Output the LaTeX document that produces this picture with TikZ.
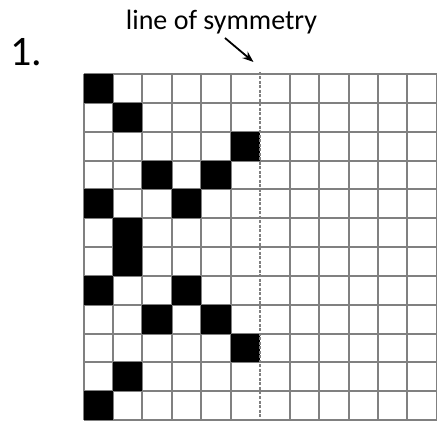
\documentclass[tikz,border=0pt]{standalone}
\usepackage{fontspec}
\setmainfont{Carlito}
\usetikzlibrary{arrows.meta,calc,positioning}

\tikzset{
  gridline/.style={draw=gray, line width=2pt},
  symline/.style={draw=gray, line width=2pt, dash pattern=on 3pt off 1.5pt},
  filled/.style={fill=black},
}

\begin{document}
\begin{tikzpicture}[x=1pt,y=-1pt,>=Stealth]
  \useasboundingbox (0,0) rectangle (437,422);
  % 12 x 12 grid, cells 29.45 wide, 28.85 high
  \foreach \i in {0,...,5,7,8,...,12}
    \draw[gridline] (83.5+\i*29.45,74) -- ++(0,346.2);
  \foreach \j in {0,...,12}
    \draw[gridline] (83.5,74+\j*28.85) -- ++(353.4,0);
  % shaded squares, row/col from top left
  \foreach \r/\c in {0/0,1/1,2/5,3/2,3/4,4/0,4/3,5/1,6/1,7/0,7/3,8/2,8/4,9/5,10/1,11/0}
    \fill[filled] (83.5+\c*29.45,74+\r*28.85) rectangle ++(29.45,28.85);
  \coordinate (symtop) at (260.2,72);
  \coordinate (symbot) at (260.2,420.2);
  \draw[symline] (symtop) -- (symbot);
  \node[font=\fontsize{28}{32}\selectfont, anchor=base, inner sep=0] (symtext) at (221.5,29.3) {line of symmetry};
  \node[font=\fontsize{42}{46}\selectfont, anchor=base west, inner sep=0] (qnum) at (10,65.7) {1.};
  \coordinate (arrowtip) at (253.5,62);
  \draw[->, line width=1.8pt] (225,38) -- (arrowtip);
\end{tikzpicture}
\end{document}
